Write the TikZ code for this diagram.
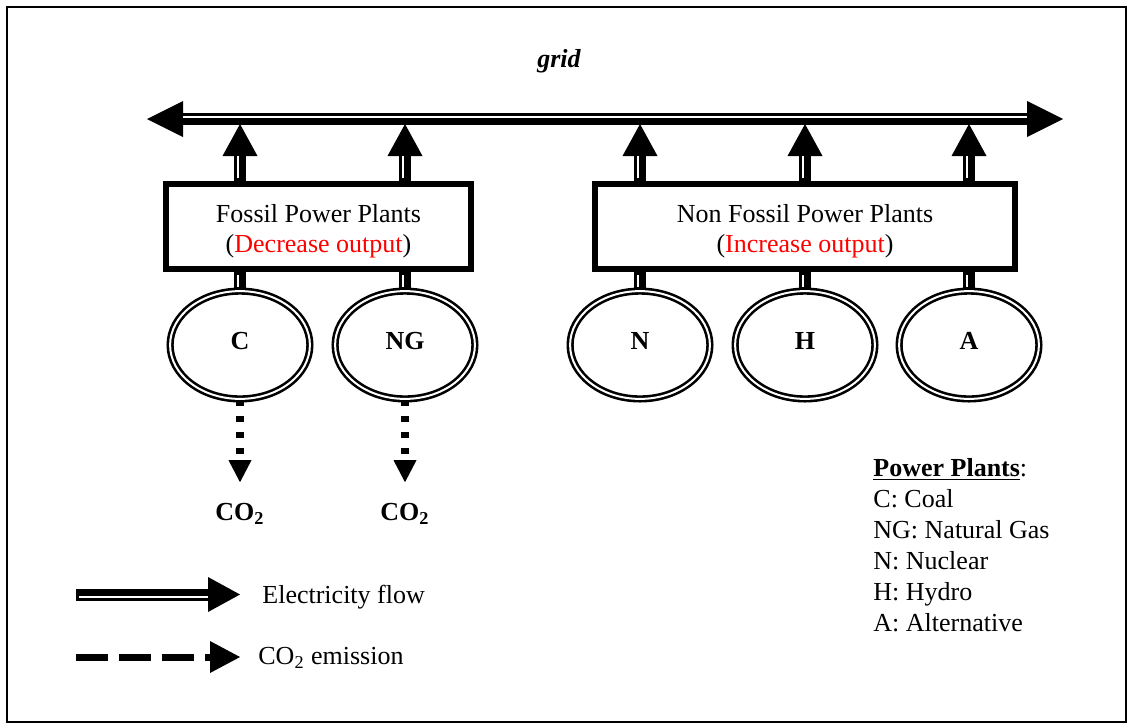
\documentclass[tikz,border=0pt]{standalone}
\usepackage{fontspec}
\setmainfont{Liberation Serif}
\usetikzlibrary{arrows.meta,positioning,shapes.geometric}

\begin{document}
\begin{tikzpicture}[x=0.5pt,y=-0.5pt,
	font=\fontsize{13}{15}\selectfont,
	box/.style = {draw,line width=3pt,minimum height=42.5pt,align=center,inner sep=0pt},
	plant/.style = {draw,ellipse,double,line width=1.3pt,double distance=1pt,minimum width=69.9pt,minimum height=53.9pt,inner sep=0pt,
		text height=9pt,text depth=5pt,font=\fontsize{13}{15}\selectfont\bfseries},
	gas/.style = {font=\fontsize{13}{15}\selectfont\bfseries,inner sep=10.5pt,outer sep=0pt},
	gridline/.style = {line width=6pt,{Triangle[width=18pt,length=18pt,line width=0pt]}-{Triangle[width=18pt,length=18pt,line width=0pt]},
		postaction={draw=white,line width=1pt,-,shorten <=18pt,shorten >=18pt,transform canvas={yshift=1pt}}},
	flow/.style = {line width=6pt,-{Triangle[width=17.5pt,length=16pt,line width=0pt]},
		postaction={draw=white,line width=1pt,-,shorten <=1.5pt,shorten >=16pt,transform canvas={#1}}},
	link/.style = {line width=6pt,postaction={draw=white,line width=1pt,shorten <=1.5pt,shorten >=1.5pt,transform canvas={#1}}},
	emis/.style = {line width=4pt,dash pattern=on 3pt off 5pt,-{Triangle[width=11.5pt,length=11pt,line width=0pt]}},
	emiskey/.style = {line width=3.5pt,dash pattern=on 16pt off 5.5pt,-{Triangle[width=16pt,length=15pt,line width=0pt]}}
	]
	\useasboundingbox (0,0) rectangle (1128,724);
	%CORNICE
	\draw[line width=1pt] (6.5,6.5) rectangle (1126,722);
	%RETE
	\coordinate (gl) at (147,119);
	\coordinate (gr) at (1063,119);
	\coordinate (gb) at (0,124);
	\draw[gridline] (gl) -- (gr);
	\node[font=\fontsize{13}{15}\selectfont\bfseries\itshape] (grid) at (559,61) {grid};
	%CENTRALI
	\node[plant] (c) at (240,345) {C};
	\node[plant] (ng) at (405,345) {NG};
	\node[plant] (n) at (640,345) {N};
	\node[plant] (h) at (805,345) {H};
	\node[plant] (a) at (969,345) {A};
	%BLOCCHI
	\node[box,minimum width=152.5pt] (fossil) at (318.5,226.5) {\rule{0pt}{14pt}Fossil Power Plants\\(\textcolor{red}{Decrease output})};
	\node[box,minimum width=210pt] (nonfossil) at (805,226.5) {\rule{0pt}{14pt}Non Fossil Power Plants\\(\textcolor{red}{Increase output})};
	%Flussi verso la rete
	\foreach \p/\b in {c/fossil,ng/fossil,n/nonfossil,h/nonfossil,a/nonfossil}{
		\draw[flow={xshift=-1pt}] (\p |- \b.north) -- (\p |- gb);
		\draw[link={xshift=-1pt}] (\p |- \b.south) -- (\p.north);
	}
	%Emissioni
	\node[gas,below=41pt of c] (co2c) {CO\textsubscript{2}};
	\node[gas,below=41pt of ng] (co2ng) {CO\textsubscript{2}};
	\draw[emis] (c.south) -- (co2c.north);
	\draw[emis] (ng.south) -- (co2ng.north);
	%Legenda
	\coordinate (ef0) at (76,594.5);
	\node[anchor=west,inner sep=0pt] (eflow) at (262,597) {Electricity flow};
	\draw[flow={yshift=-1.25pt}] (ef0) -- ([xshift=-11pt]eflow.west |- ef0);
	\coordinate (em0) at (76,657);
	\node[anchor=west,inner sep=0pt] (emkey) at (258,658) {CO\textsubscript{2} emission};
	\draw[emiskey] (em0) -- ([xshift=-9pt]emkey.west |- em0);
	\node[anchor=north west,align=left,inner sep=0pt,font=\fontsize{13}{15.5}\selectfont] (plants) at (873,458)
		{\underline{\textbf{Power Plants}}:\\C: Coal\\NG: Natural Gas\\N: Nuclear\\H: Hydro\\A: Alternative};
\end{tikzpicture}
\end{document}
